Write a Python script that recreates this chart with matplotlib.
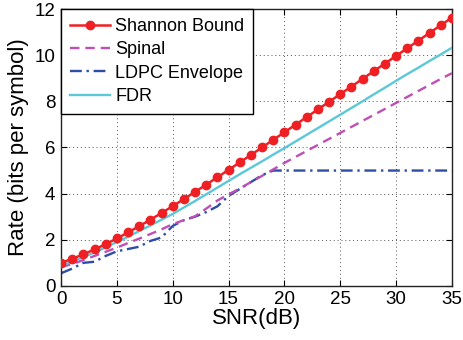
import matplotlib
matplotlib.use("Agg")
import matplotlib.pyplot as plt

snr = list(range(0, 36))
shannon = [1.000, 1.176, 1.370, 1.583, 1.812, 2.057, 2.317, 2.588, 2.870, 3.161,
           3.459, 3.764, 4.075, 4.389, 4.707, 5.028, 5.351, 5.676, 6.002, 6.330,
           6.658, 6.988, 7.317, 7.648, 7.978, 8.309, 8.641, 8.972, 9.304, 9.635,
           9.967, 10.299, 10.631, 10.963, 11.295, 11.627]
spinal = [0.82, 0.95, 1.12, 1.30, 1.48, 1.66, 1.86, 2.05, 2.25, 2.45,
          2.68, 2.85, 3.02, 3.35, 3.70, 3.97, 4.22, 4.50, 4.77, 5.05,
          5.33, 5.59, 5.85, 6.11, 6.37, 6.63, 6.89, 7.15, 7.41, 7.67,
          7.93, 8.19, 8.45, 8.71, 8.97, 9.22]
ldpc = [0.55, 0.75, 1.00, 1.05, 1.30, 1.50, 1.60, 1.70, 1.95, 2.10,
        2.60, 2.85, 3.00, 3.20, 3.45, 3.90, 4.20, 4.50, 4.80, 5.00,
        5.00, 5.00, 5.00, 5.00, 5.00, 5.00, 5.00, 5.00, 5.00, 5.00,
        5.00, 5.00, 5.00, 5.00, 5.00, 5.00]
fdr = [0.88, 1.05, 1.25, 1.45, 1.67, 1.90, 2.13, 2.38, 2.62, 2.87,
       3.12, 3.40, 3.68, 3.97, 4.26, 4.55, 4.84, 5.12, 5.40, 5.69,
       5.97, 6.26, 6.55, 6.84, 7.13, 7.42, 7.71, 8.00, 8.30, 8.59,
       8.89, 9.18, 9.46, 9.75, 10.03, 10.32]

xticks = [0, 5, 10, 15, 20, 25, 30, 35]
yticks = [0, 2, 4, 6, 8, 10, 12]

plt.rcParams['font.family'] = ['Liberation Sans', 'DejaVu Sans']

fig = plt.figure(figsize=(4.63, 3.40), dpi=100)
ax = fig.add_axes([0.1318, 0.159, 0.976 - 0.1318, 0.9735 - 0.159])

ax.plot(snr, shannon, color='#EE2024', lw=1.8, marker='o', ms=6,
        label='Shannon Bound', zorder=5)
ax.plot(snr, spinal, color='#BF4FB5', lw=1.7, ls=(0, (4, 2.5)), label='Spinal', zorder=3)
ax.plot(snr, ldpc, color='#2E4DA7', lw=1.7, ls=(0, (5, 2, 1, 2)), label='LDPC Envelope', zorder=2)
ax.plot(snr, fdr, color='#5AC8D8', lw=1.7, label='FDR', zorder=4)

ax.set_xlim(0, 35)
ax.set_ylim(0, 12)
ax.set_xticks(xticks)
ax.set_yticks(yticks)
ax.tick_params(direction='in', top=True, right=True, labelsize=13.5, length=4,
               width=0.8, pad=4)
ax.grid(True, ls=(0, (1, 3)), color='#555555', lw=0.7)
for s in ax.spines.values():
    s.set_linewidth(1.0)
    s.set_color('#222222')

ax.set_xlabel('SNR(dB)', fontsize=16, labelpad=0)
ax.set_ylabel('Rate (bits per symbol)', fontsize=16, labelpad=4)

leg = ax.legend(loc='upper left', fontsize=13, frameon=True, fancybox=False,
                edgecolor='black', borderaxespad=0, handlelength=2.2,
                handletextpad=0.3, labelspacing=0.35, borderpad=0.5,
                numpoints=1, framealpha=1)
leg.get_frame().set_linewidth(1.0)

fig.savefig('out.png', dpi=100)
